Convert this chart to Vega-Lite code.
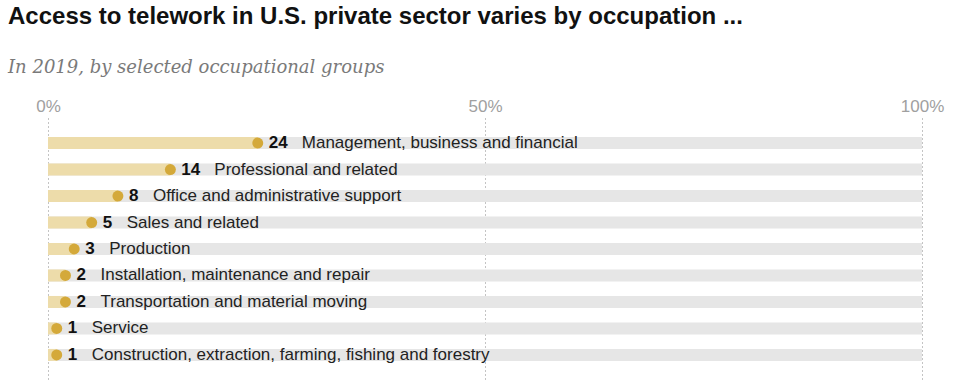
{
  "$schema": "https://vega.github.io/schema/vega-lite/v6.json",
  "autosize": {"type": "none"},
  "width": 874,
  "height": 262,
  "padding": {"left": 48, "top": 118, "right": 37, "bottom": 10},
  "background": "white",
  "title": {
    "text": "Access to telework in U.S. private sector varies by occupation ...",
    "subtitle": "In 2019, by selected occupational groups",
    "anchor": "start",
    "frame": "group",
    "dx": -40,
    "offset": 20,
    "font": "Liberation Sans",
    "fontSize": 24,
    "fontWeight": "bold",
    "color": "#111111",
    "subtitleFont": "DejaVu Serif",
    "subtitleFontStyle": "italic",
    "subtitleFontSize": 18,
    "subtitleColor": "#7a7a7a",
    "subtitlePadding": 30
  },
  "data": {
    "values": [
      {"occupation": "Management, business and financial", "value": 24, "full": 100},
      {"occupation": "Professional and related", "value": 14, "full": 100},
      {"occupation": "Office and administrative support", "value": 8, "full": 100},
      {"occupation": "Sales and related", "value": 5, "full": 100},
      {"occupation": "Production", "value": 3, "full": 100},
      {"occupation": "Installation, maintenance and repair", "value": 2, "full": 100},
      {"occupation": "Transportation and material moving", "value": 2, "full": 100},
      {"occupation": "Service", "value": 1, "full": 100},
      {"occupation": "Construction, extraction, farming, fishing and forestry", "value": 1, "full": 100}
    ]
  },
  "encoding": {
    "y": {
      "field": "occupation",
      "type": "nominal",
      "sort": null,
      "axis": null,
      "scale": {"paddingInner": 0.547, "paddingOuter": 0.72}
    }
  },
  "layer": [
    {
      "mark": {"type": "bar", "color": "#e6e6e6"},
      "encoding": {
        "x": {
          "field": "full",
          "type": "quantitative",
          "scale": {"domain": [0, 100], "nice": false},
          "axis": {
            "orient": "top",
            "values": [0, 50, 100],
            "labelExpr": "datum.value + '%'",
            "title": null,
            "domain": false,
            "ticks": false,
            "labelFlush": false,
            "labelPadding": 3,
            "labelFont": "Liberation Sans",
            "labelFontSize": 17,
            "labelColor": "#a0a0a0",
            "grid": true,
            "gridColor": "#888888",
            "gridDash": [1, 3],
            "gridWidth": 1
          }
        }
      }
    },
    {
      "mark": {"type": "bar", "color": "#eddcaa"},
      "encoding": {"x": {"field": "value", "type": "quantitative"}}
    },
    {
      "mark": {"type": "point", "filled": true, "size": 120, "color": "#d4a93a", "opacity": 1},
      "encoding": {"x": {"field": "value", "type": "quantitative"}}
    },
    {
      "mark": {"type": "text", "align": "left", "baseline": "middle", "dx": 11, "font": "Liberation Sans", "fontSize": 17, "fontWeight": "bold", "color": "#111111"},
      "encoding": {
        "x": {"field": "value", "type": "quantitative"},
        "text": {"field": "value", "type": "quantitative"}
      }
    },
    {
      "transform": [{"filter": "datum.value >= 10"}],
      "mark": {"type": "text", "align": "left", "baseline": "middle", "dx": 44, "font": "Liberation Sans", "fontSize": 17, "color": "#222222"},
      "encoding": {
        "x": {"field": "value", "type": "quantitative"},
        "text": {"field": "occupation", "type": "nominal"}
      }
    },
    {
      "transform": [{"filter": "datum.value < 10"}],
      "mark": {"type": "text", "align": "left", "baseline": "middle", "dx": 35, "font": "Liberation Sans", "fontSize": 17, "color": "#222222"},
      "encoding": {
        "x": {"field": "value", "type": "quantitative"},
        "text": {"field": "occupation", "type": "nominal"}
      }
    }
  ],
  "config": {"view": {"stroke": null}}
}
